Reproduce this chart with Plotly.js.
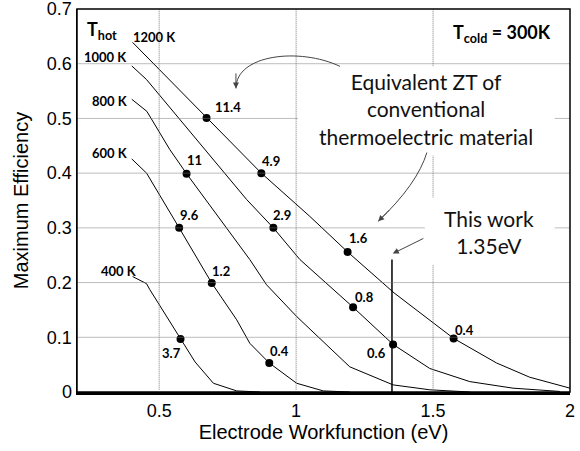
<!DOCTYPE html>
<html><head><meta charset="utf-8">
<script src="https://cdn.plot.ly/plotly-3.0.1.min.js"></script>
<style>html,body{margin:0;padding:0;background:#fff}</style>
</head><body><div id="chart" style="width:580px;height:451px"></div>
<script>
// ---- data ----
const tempLabels = ['400 K', '600 K', '800 K', '1000 K', '1200 K'];

const curve400X = [0.403, 0.454, 0.466, 0.578, 0.631, 0.698, 0.783, 0.868];
const curve400Y = [0.211, 0.198, 0.187, 0.097, 0.055, 0.016, 0.002, 0.000];

const curve600X = [0.400, 0.454, 0.573, 0.692, 0.783, 0.831, 0.902, 1.002, 1.099, 1.196];
const curve600Y = [0.426, 0.400, 0.300, 0.199, 0.132, 0.089, 0.053, 0.016, 0.002, 0.000];

const curve800X = [0.400, 0.455, 0.539, 0.600, 0.831, 0.892, 1.002, 1.196, 1.354, 1.488, 1.634];
const curve800Y = [0.535, 0.513, 0.443, 0.399, 0.242, 0.196, 0.138, 0.046, 0.013, 0.004, 0.000];

const curve1000X = [0.400, 0.454, 0.819, 0.917, 1.014, 1.208, 1.354, 1.488, 1.634, 1.792, 1.963];
const curve1000Y = [0.596, 0.571, 0.352, 0.300, 0.242, 0.155, 0.087, 0.043, 0.019, 0.007, 0.001];

const curve1200X = [0.403, 0.673, 0.873, 1.050, 1.188, 1.358, 1.575, 1.732, 1.853, 2.000];
const curve1200Y = [0.639, 0.501, 0.400, 0.321, 0.256, 0.181, 0.098, 0.053, 0.027, 0.007];

// equivalent ZT markers
const zt400X = [0.578];                    const zt400Y = [0.097];                    const zt400Text = ['3.7'];
const zt600X = [0.573, 0.692, 0.902];      const zt600Y = [0.300, 0.199, 0.053];      const zt600Text = ['9.6', '1.2', '0.4'];
const zt800X = [0.600];                    const zt800Y = [0.399];                    const zt800Text = ['11'];
const zt1000X = [0.917, 1.208, 1.354];     const zt1000Y = [0.300, 0.155, 0.087];     const zt1000Text = ['2.9', '0.8', '0.6'];
const zt1200X = [0.673, 0.873, 1.188, 1.575]; const zt1200Y = [0.501, 0.400, 0.256, 0.098]; const zt1200Text = ['11.4', '4.9', '1.6', '0.4'];

// "this work" electrode workfunction
const thisWorkX = [1.35, 1.35];
const thisWorkY = [0, 0.242];

const xTickVals = [0.5, 1, 1.5, 2];
const xTickText = ['0.5', '1', '1.5', '2'];
const yTickVals = [0, 0.1, 0.2, 0.3, 0.4, 0.5, 0.6, 0.7];
const yTickText = ['0', '0.1', '0.2', '0.3', '0.4', '0.5', '0.6', '0.7'];

// ---- styling ----
const labelFont = 'Lato, "Open Sans", sans-serif';
const axisFont = '"Liberation Sans", Arial, sans-serif';
const gridColor = '#7a7a7a';

const curves = [
  {x: curve400X, y: curve400Y, mx: zt400X, my: zt400Y, mt: zt400Text},
  {x: curve600X, y: curve600Y, mx: zt600X, my: zt600Y, mt: zt600Text},
  {x: curve800X, y: curve800Y, mx: zt800X, my: zt800Y, mt: zt800Text},
  {x: curve1000X, y: curve1000Y, mx: zt1000X, my: zt1000Y, mt: zt1000Text},
  {x: curve1200X, y: curve1200Y, mx: zt1200X, my: zt1200Y, mt: zt1200Text}
];
// pixel offsets of ZT labels from their markers [right, down]
const ztOffsets = [
  [[-9, 14.3]],
  [[10.7, -13.3], [9.3, -12.3], [10.7, -12]],
  [[7.9, -13.3]],
  [[8.4, -13.3], [11.7, -10.6], [-16.6, 9]],
  [[21.1, -11.1], [9.7, -12.2], [10.6, -14], [11.3, -8.7]]
];
// temperature label placement relative to curve start: [xanchor, xshift, yshift(up)]
const tempPlace = [
  ['right', 6, 6], ['right', -2, 6], ['right', -2, -2], ['right', -3, 8.5], ['left', -2, 5.5]
];

const traces = [];
const annotations = [];
curves.forEach((c, i) => {
  traces.push({x: c.x, y: c.y, type: 'scatter', mode: 'lines', name: tempLabels[i],
    line: {color: 'black', width: 1}});
  traces.push({x: c.mx, y: c.my, type: 'scatter', mode: 'markers', name: tempLabels[i] + ' ZT',
    marker: {color: 'black', size: 8}});
  annotations.push({x: c.x[0], y: c.y[0], xref: 'x', yref: 'y', showarrow: false,
    text: '<b>' + tempLabels[i] + '</b>', font: {family: labelFont, size: 13, color: 'black'},
    xanchor: tempPlace[i][0], yanchor: 'middle', xshift: tempPlace[i][1], yshift: tempPlace[i][2]});
  c.mt.forEach((t, j) => {
    annotations.push({x: c.mx[j], y: c.my[j], xref: 'x', yref: 'y', showarrow: false,
      text: '<b>' + t + '</b>', font: {family: labelFont, size: 13, color: 'black'},
      xanchor: 'center', yanchor: 'middle', xshift: ztOffsets[i][j][0], yshift: -ztOffsets[i][j][1]});
  });
});
traces.push({x: thisWorkX, y: thisWorkY, type: 'scatter', mode: 'lines', name: 'This work',
  line: {color: 'black', width: 1.5}});

// text boxes
annotations.push({x: 1.474, y: 0.5165, xref: 'x', yref: 'y', showarrow: false,
  text: 'Equivalent ZT of<br>conventional<br>thermoelectric material',
  font: {family: labelFont, size: 21, color: '#111'}, align: 'center', xanchor: 'center', yanchor: 'middle'});
annotations.push({x: 1.7036, y: 0.293, xref: 'x', yref: 'y', showarrow: false,
  text: 'This work<br>1.35eV',
  font: {family: labelFont, size: 21, color: '#111'}, align: 'center', xanchor: 'center', yanchor: 'middle'});
annotations.push({x: 0.0497, y: 0.9426, xref: 'paper', yref: 'paper', showarrow: false,
  text: '<b>T<sub>hot</sub></b>', font: {family: labelFont, size: 18, color: 'black'},
  xanchor: 'center', yanchor: 'middle'});
annotations.push({x: 0.863, y: 0.937, xref: 'paper', yref: 'paper', showarrow: false,
  text: '<b>T<sub>cold</sub> = 300K</b>', font: {family: labelFont, size: 18, color: 'black'},
  xanchor: 'center', yanchor: 'middle'});
// arrowheads
const arrowColor = '#444';
annotations.push({x: 0.7803, y: 0.5549, xref: 'x', yref: 'y', ax: 0.7803, ay: 0.585, axref: 'x', ayref: 'y',
  text: '', showarrow: true, arrowhead: 2, arrowsize: 1.2, arrowwidth: 1, arrowcolor: arrowColor});
annotations.push({x: 1.2996, y: 0.3119, xref: 'x', yref: 'y', ax: 1.345, ay: 0.335, axref: 'x', ayref: 'y',
  text: '', showarrow: true, arrowhead: 2, arrowsize: 1.2, arrowwidth: 1, arrowcolor: arrowColor});
annotations.push({x: 1.353, y: 0.253, xref: 'x', yref: 'y', ax: 1.470, ay: 0.282, axref: 'x', ayref: 'y',
  text: '', showarrow: true, arrowhead: 2, arrowsize: 1.2, arrowwidth: 1, arrowcolor: arrowColor});

// dotted grid lines built from the tick arrays
const shapes = [];
xTickVals.filter(v => v < 2).forEach(v => shapes.push({type: 'line', xref: 'x', yref: 'paper',
  x0: v, x1: v, y0: 0.006, y1: 1, line: {color: gridColor, width: 1, dash: '1px,1px'}, layer: 'above'}));
yTickVals.filter(v => v > 0 && v < 0.7).forEach(v => shapes.push({type: 'line', xref: 'paper', yref: 'y',
  x0: 0.003, x1: 1, y0: v, y1: v, line: {color: gridColor, width: 1, dash: '1px,1px'}, layer: 'above'}));
// white boxes behind the notes, arrows and frame
shapes.push(
  {type: 'rect', xref: 'x', yref: 'y', x0: 1.0066, x1: 1.944, y0: 0.4322, y1: 0.5952,
    fillcolor: 'white', line: {width: 0}, layer: 'above'},
  {type: 'rect', xref: 'x', yref: 'y', x0: 1.470, x1: 1.944, y0: 0.2326, y1: 0.3553,
    fillcolor: 'white', line: {width: 0}, layer: 'above'},
  {type: 'path', xref: 'x', yref: 'y', path: 'M1.160,0.5952 C1.0139,0.6300 0.7803,0.6172 0.7803,0.5549',
    line: {color: arrowColor, width: 1}, layer: 'above'},
  {type: 'path', xref: 'x', yref: 'y', path: 'M1.4774,0.4377 Q1.4427,0.3800 1.2996,0.3119',
    line: {color: arrowColor, width: 1}, layer: 'above'},
  {type: 'rect', xref: 'paper', yref: 'paper', x0: 0, x1: 1, y0: 0, y1: 1,
    line: {color: 'black', width: 1.5}, layer: 'above'}
);

const layout = {
  width: 580, height: 451,
  margin: {l: 77, r: 10, t: 9, b: 59},
  paper_bgcolor: 'white', plot_bgcolor: 'white',
  showlegend: false,
  xaxis: {range: [0.2, 2], tickvals: xTickVals, ticktext: xTickText,
    showgrid: false, showline: true, linecolor: 'black', linewidth: 3, zeroline: false, ticks: '',
    ticklabeloverflow: 'allow',
    tickfont: {family: axisFont, size: 18, color: 'black'},
    title: {text: 'Electrode Workfunction (eV)', font: {family: axisFont, size: 20, color: 'black'}, standoff: 4}},
  yaxis: {range: [0, 0.7], tickvals: yTickVals, ticktext: yTickText,
    showgrid: false, showline: true, linecolor: 'black', linewidth: 1.5, zeroline: false, ticks: '',
    ticklabeloverflow: 'allow',
    tickfont: {family: axisFont, size: 18, color: 'black'},
    title: {text: 'Maximum Efficiency', font: {family: axisFont, size: 20, color: 'black'}, standoff: 13}},
  annotations: annotations,
  shapes: shapes
};

Plotly.newPlot('chart', traces, layout, {displayModeBar: false, staticPlot: true});
</script>
</body></html>
